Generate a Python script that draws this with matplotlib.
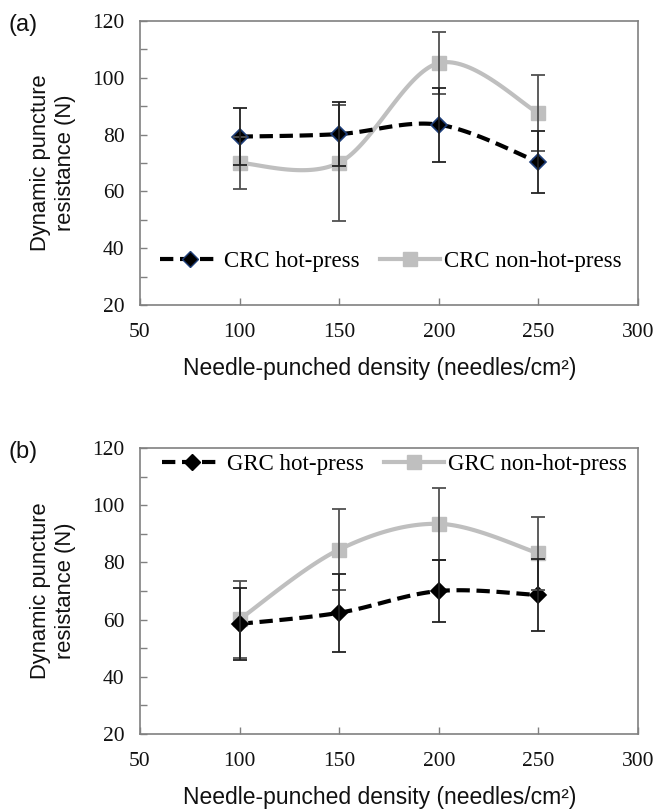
import numpy as np
import matplotlib
matplotlib.use("Agg")
import matplotlib.pyplot as plt
from matplotlib.ticker import MultipleLocator

# ---------------- data ----------------
density = [100, 150, 200, 250]

crc_hot = [79.3, 80.2, 83.5, 70.3]
crc_hot_err = [10.1, 11.2, 13.0, 11.0]
crc_non = [70.0, 70.1, 105.2, 87.6]
crc_non_err = [9.0, 20.5, 10.8, 13.4]

grc_hot = [58.5, 62.4, 70.0, 68.6]
grc_hot_err = [12.5, 13.6, 11.0, 12.5]
grc_non = [60.1, 84.5, 93.5, 83.2]
grc_non_err = [13.5, 14.2, 12.5, 12.8]

xticks = [50, 100, 150, 200, 250, 300]
yticks = [20, 40, 60, 80, 100, 120]

SERIF = ["Liberation Serif", "DejaVu Serif"]
SANS = ["Liberation Sans", "DejaVu Sans"]
GRAY = "#BFBFBF"
SPINE = "#808080"


def smooth(x, y, n=40):
    """Excel-like smoothed line (Catmull-Rom -> cubic Bezier)."""
    x = np.asarray(x, float)
    y = np.asarray(y, float)
    P = np.column_stack([x, y])
    out = []
    for i in range(len(P) - 1):
        p0 = P[i - 1] if i > 0 else P[i]
        p1 = P[i]
        p2 = P[i + 1]
        p3 = P[i + 2] if i + 2 < len(P) else P[i + 1]
        c1 = p1 + (p2 - p0) / 6.0
        c2 = p2 - (p3 - p1) / 6.0
        t = np.linspace(0, 1, n)[:, None]
        seg = ((1 - t) ** 3) * p1 + 3 * ((1 - t) ** 2) * t * c1 + 3 * (1 - t) * t ** 2 * c2 + t ** 3 * p2
        if i > 0:
            seg = seg[1:]
        out.append(seg)
    S = np.vstack(out)
    return S[:, 0], S[:, 1]


fig = plt.figure(figsize=(6.56, 8.09), dpi=100)

axes_pos = [
    [0.2134, 0.6230, 0.7592, 0.3510],
    [0.2134, 0.0927, 0.7592, 0.3535],
]

panels = [
    ("(a)", "CRC", crc_hot, crc_hot_err, crc_non, crc_non_err, "#1F3F7A", (0.04, 0.154)),
    ("(b)", "GRC", grc_hot, grc_hot_err, grc_non, grc_non_err, "black", (0.045, 0.941)),
]

for pos, (tag, name, hot, hot_err, non, non_err, medge, legloc) in zip(axes_pos, panels):
    ax = fig.add_axes(pos)
    # smoothed lines
    sx, sy = smooth(density, non)
    ax.plot(sx, sy, color=GRAY, lw=3.0, solid_capstyle="round", zorder=2)
    hx, hy = smooth(density, hot)
    ax.plot(hx, hy, color="black", lw=3.0, dashes=(3.2, 1.6), zorder=3)
    # markers
    ax.plot(density, non, ls="none", marker="s", ms=10.5, mfc=GRAY, mec=GRAY, zorder=4)
    ax.plot(density, hot, ls="none", marker="D", ms=8.5, mfc="black", mec=medge, mew=1.2, zorder=5)
    # error bars
    ax.errorbar(density, non, yerr=non_err, fmt="none", ecolor="#505050", elinewidth=1.3,
                capsize=5, capthick=1.3, zorder=6)
    ax.errorbar(density, hot, yerr=hot_err, fmt="none", ecolor="#222222", elinewidth=1.3,
                capsize=5, capthick=1.3, zorder=6)

    # legend handles
    h1, = ax.plot([], [], color="black", lw=3.0, dashes=(3.2, 1.6), marker="D", ms=8.5,
                  mfc="black", mec=medge)
    h2, = ax.plot([], [], color=GRAY, lw=3.0, marker="s", ms=10.5, mfc=GRAY, mec=GRAY)
    ax.legend([h1, h2], [f"{name} hot-press", f"{name} non-hot-press"],
              loc="center left", bbox_to_anchor=legloc, ncol=2, frameon=False,
              prop={"family": SERIF, "size": 16.5}, handlelength=2.6,
              handletextpad=0.2, columnspacing=0.9, borderaxespad=0.0,
              borderpad=0.0)

    ax.set_xlim(50, 300)
    ax.set_ylim(20, 120)
    ax.set_xticks(xticks)
    ax.set_yticks(yticks)
    ax.yaxis.set_minor_locator(MultipleLocator(10))
    ax.tick_params(axis="both", which="both", direction="in", color=SPINE, width=1.0)
    ax.tick_params(axis="both", which="major", length=5)
    ax.tick_params(axis="y", which="minor", length=5)
    ax.tick_params(axis="x", pad=13)
    ax.tick_params(axis="y", pad=11)
    for lab in ax.get_xticklabels() + ax.get_yticklabels():
        lab.set_fontfamily(SERIF)
        lab.set_fontsize(15.5)
        lab.set_color("#111111")
    for sp in ax.spines.values():
        sp.set_color(SPINE)
        sp.set_linewidth(1.2)

    ax.set_xlabel("Needle-punched density (needles/cm²)", fontfamily=SANS,
                  fontsize=16.5, labelpad=11, color="#111111")
    ax.xaxis.label.set_x(0.482)
    ax.set_ylabel("Dynamic puncture\nresistance (N)", fontfamily=SANS, fontsize=15.8,
                  labelpad=12, linespacing=1.22, color="#111111")
    ax.text(-0.265, 0.986, tag, transform=ax.transAxes, fontfamily=SANS, fontsize=17,
            ha="left", va="center", color="#111111")

fig.savefig("out.png", dpi=100)
